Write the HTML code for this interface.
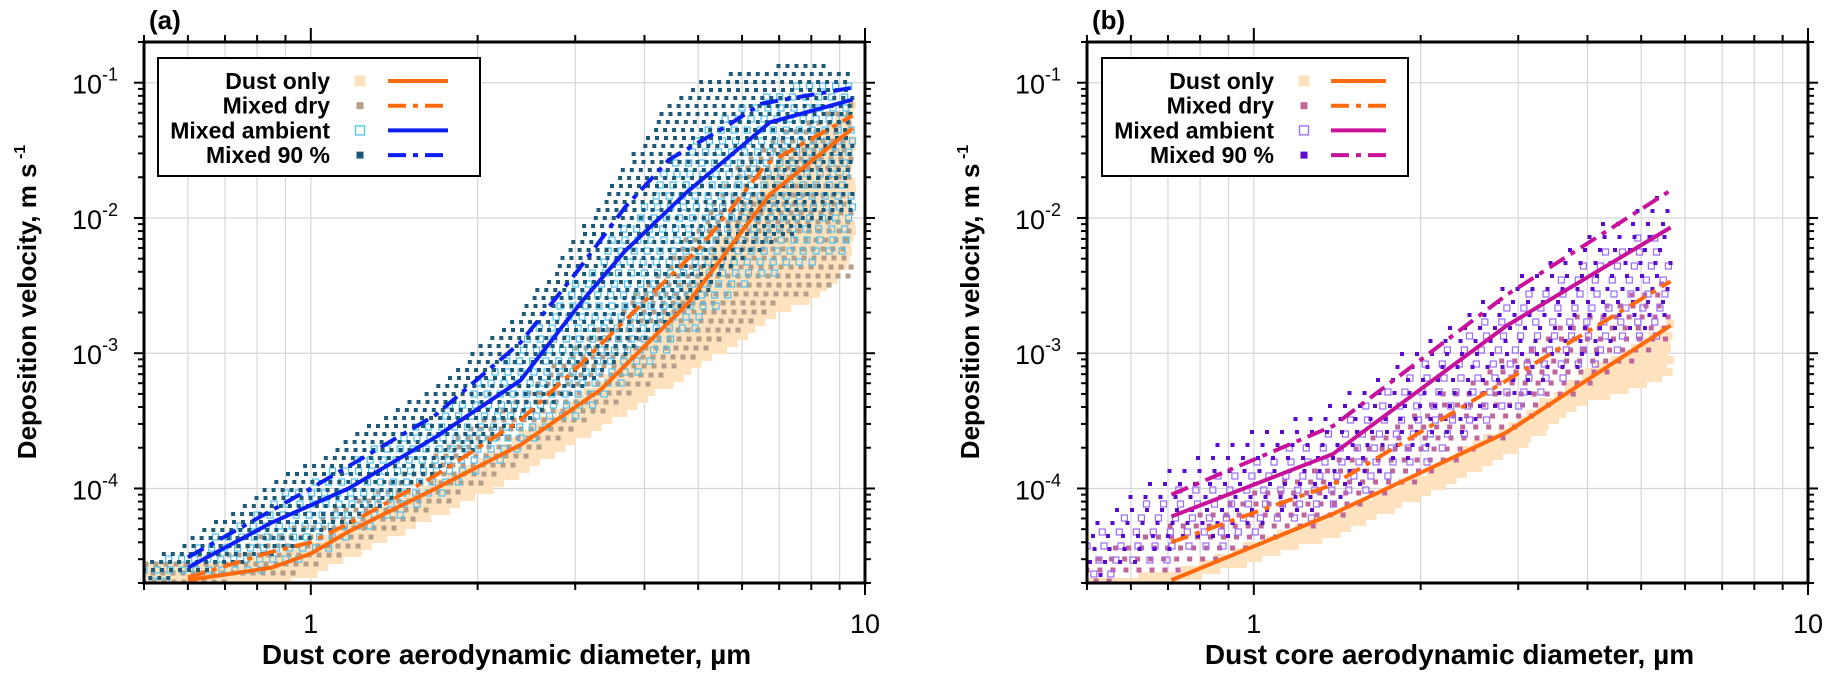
<!DOCTYPE html>
<html><head><meta charset="utf-8">
<style>
html,body{margin:0;padding:0;background:#fff;}
svg{display:block;font-family:"Liberation Sans",Arial,sans-serif;}
</style></head>
<body>
<svg id="fig" width="1846" height="677" viewBox="0 0 1846 677" xmlns="http://www.w3.org/2000/svg"></svg>
<script>
// ---------- DATA ----------
const aDustX  = [0.6, 0.85, 1.0, 1.17, 1.68, 2.39, 3.34, 4.77, 6.74, 9.5];
const aDustY  = [2.1e-5, 2.6e-5, 3.3e-5, 4.8e-5, 1.0e-4, 2.1e-4, 5.4e-4, 2.3e-3, 1.5e-2, 4.6e-2];
const aDryX   = [0.6, 0.85, 1.0, 1.22, 1.68, 2.39, 3.02, 5.1, 6.64, 9.5];
const aDryY   = [2.2e-5, 3.4e-5, 4.0e-5, 6.0e-5, 1.25e-4, 3.2e-4, 7.8e-4, 6.4e-3, 2.5e-2, 5.7e-2];
const aAmbX   = [0.6, 0.85, 1.17, 1.68, 2.39, 3.08, 3.69, 4.77, 6.74, 9.5];
const aAmbY   = [2.6e-5, 5.6e-5, 1.0e-4, 2.4e-4, 6.3e-4, 2.4e-3, 5.7e-3, 1.55e-2, 5.1e-2, 7.5e-2];
const a90X    = [0.6, 1.0, 1.68, 2.39, 3.02, 3.69, 4.43, 5.64, 6.5, 9.5];
const a90Y    = [3.1e-5, 1.0e-4, 3.5e-4, 1.2e-3, 4.0e-3, 1.2e-2, 2.7e-2, 4.8e-2, 7.0e-2, 9.2e-2];
const bX      = [0.71, 1.39, 2.86, 5.65];
const bDustY  = [2.1e-5, 6.5e-5, 2.6e-4, 1.6e-3];
const bDryY   = [4.0e-5, 1.07e-4, 6.3e-4, 3.4e-3];
const bAmbY   = [6.2e-5, 1.8e-4, 1.6e-3, 8.5e-3];
const b90Y    = [9.0e-5, 2.9e-4, 2.7e-3, 1.6e-2];
const aBandX    = [0.5, 0.6, 0.85, 1.0, 1.2, 1.7, 2.4, 3.3, 4.3, 5.0, 6.0, 7.0, 8.5, 9.5];
const aDustLo   = [2.0e-5,2.0e-5,2.0e-5,2.3e-5,3.3e-5,6.5e-5,1.3e-4,2.8e-4,5.5e-4,8e-4,1.3e-3,2.0e-3,3.0e-3,5e-3];
const aDustHi   = [2.8e-5,2.6e-5,3.0e-5,3.8e-5,5.5e-5,1.1e-4,2.4e-4,6e-4,1.6e-3,4e-3,1.2e-2,2.5e-2,4.5e-2,7e-2];
const aDryLo    = [2.0e-5,2.0e-5,2.2e-5,2.6e-5,3.6e-5,7.5e-5,1.6e-4,3.5e-4,7e-4,1.0e-3,1.6e-3,2.5e-3,3e-3,4e-3];
const aDryHi    = [2.8e-5,3.0e-5,4.5e-5,5.5e-5,8e-5,1.8e-4,5e-4,1.5e-3,4e-3,9e-3,2.5e-2,4e-2,6e-2,7e-2];
const aAmbLo    = [2.0e-5,2.2e-5,2.6e-5,3.2e-5,4.5e-5,9e-5,2e-4,4.5e-4,1.0e-3,1.6e-3,3e-3,4e-3,5e-3,5e-3];
const aAmbHi    = [2.6e-5,3.2e-5,8e-5,1.1e-4,1.6e-4,3.5e-4,1.1e-3,5e-3,2e-2,4e-2,7e-2,9e-2,1.0e-1,1.0e-1];
const a90Lo     = [2.0e-5,2.4e-5,3.2e-5,4.2e-5,6e-5,1.3e-4,3e-4,7e-4,1.5e-3,2.5e-3,5e-3,7e-3,1e-2,1.2e-2];
const a90Hi     = [2.8e-5,4.0e-5,1.1e-4,1.5e-4,2.5e-4,6e-4,2e-3,1.2e-2,6e-2,1.0e-1,1.2e-1,1.3e-1,1.3e-1,1.2e-1];
const bBandX    = [0.5, 0.71, 1.0, 1.39, 2.0, 2.86, 4.0, 5.65];
const bDustLo   = [2.0e-5,2.0e-5,3.0e-5,4.6e-5,9e-5,1.8e-4,4.5e-4,7e-4];
const bDustHi   = [2.0e-5,2.3e-5,3.8e-5,6.2e-5,1.2e-4,2.8e-4,7e-4,1.6e-3];
const bDryLo    = [2.0e-5,2.4e-5,3.8e-5,6e-5,1.2e-4,2.5e-4,6e-4,1.2e-3];
const bDryHi    = [3.0e-5,5.5e-5,9e-5,1.6e-4,4e-4,9e-4,2e-3,3.5e-3];
const bAmbLo    = [2.0e-5,3.0e-5,4.5e-5,7e-5,1.5e-4,3.5e-4,8e-4,1.5e-3];
const bAmbHi    = [4.0e-5,1.0e-4,1.6e-4,2.6e-4,8e-4,2.2e-3,5e-3,9e-3];
const b90Lo     = [2.0e-5,3.5e-5,5e-5,8e-5,1.8e-4,4e-4,9e-4,2e-3];
const b90Hi     = [5.0e-5,1.5e-4,2.6e-4,4.2e-4,1.2e-3,3.2e-3,8e-3,1.6e-2];
const xMajor = [1, 10];
const xMinor = [0.5,0.6,0.7,0.8,0.9,2,3,4,5,6,7,8,9];
const yMajor = [1e-4,1e-3,1e-2,1e-1];
const yMajorLabels = ["-4","-3","-2","-1"];
const legendLabels = ["Dust only","Mixed dry","Mixed ambient","Mixed 90 %"];

// ---------- DRAW ----------
const NS="http://www.w3.org/2000/svg";
const svg=document.getElementById('fig');
function mk(tag,attrs,parent){const e=document.createElementNS(NS,tag);for(const k in attrs)e.setAttribute(k,attrs[k]);(parent||svg).appendChild(e);return e;}
const L=Math.log10;
function interpLog(xs,ys,x){
  const lx=L(x);
  for(let i=0;i<xs.length-1;i++){
    const a=L(xs[i]),b=L(xs[i+1]);
    if(lx>=a&&lx<=b){const t=(lx-a)/(b-a);return Math.pow(10,L(ys[i])+t*(L(ys[i+1])-L(ys[i])));}
  }
  return null;
}

function panel(cfg){
  const x0=cfg.x0,x1=cfg.x0+721,y0=42,y1=583;
  const xmin=L(0.5),xmax=L(10),ymin=L(2e-5),ymax=L(0.2);
  const X=v=>x0+(L(v)-xmin)/(xmax-xmin)*(x1-x0);
  const Y=v=>y1-(L(v)-ymin)/(ymax-ymin)*(y1-y0);
  const g=mk('g',{});
  
  
  const defs=mk('clipPath',{id:'clip'+cfg.id},g);
  mk('rect',{x:x0,y:y0,width:x1-x0,height:y1-y0},defs);
  const grid=mk('g',{stroke:'#d6d6d6','stroke-width':1.2},g);
  
  
  xMinor.concat(xMajor).forEach(v=>{if(v>0.5&&v<10)mk('line',{x1:X(v),x2:X(v),y1:y0,y2:y1},grid);});
  yMajor.forEach(v=>mk('line',{x1:x0,x2:x1,y1:Y(v),y2:Y(v)},grid));
  const sc=mk('g',{'clip-path':'url(#clip'+cfg.id+')'},g);
  
  
  cfg.scatter.forEach(s=>{
    const sg=mk('g',{},sc);
    
    
    let row=0;
    for(let py=y0;py<=y1;py+=s.sy,row++){
      const off=(row%2)*s.sx/2+(row%3)*s.sx/5;
      for(let px=x0+off;px<=x1;px+=s.sx){
        const xv=Math.pow(10,xmin+(px-x0)/(x1-x0)*(xmax-xmin));
        const lo=interpLog(cfg.bandX,s.lo,xv),hi=interpLog(cfg.bandX,s.hi,xv);
        if(lo===null)continue;
        if(py<=Y(lo)+2&&py>=Y(hi)-2){
          const r=s.size/2;
          if(s.hollow)mk('rect',{x:px-r,y:py-r,width:s.size,height:s.size,fill:'none',stroke:s.color,'stroke-width':1.2},sg);
          else mk('rect',{x:px-r,y:py-r,width:s.size,height:s.size,fill:s.color},sg);
        }
      }
    }
  });
  const lg=mk('g',{'clip-path':'url(#clip'+cfg.id+')',fill:'none','stroke-width':4,'stroke-linejoin':'round'},g);
  cfg.lines.forEach(ln=>{
    const p=mk('polyline',{points:ln.x.map((v,i)=>X(v)+','+Y(ln.y[i])).join(' '),stroke:ln.color},lg);
    if(ln.dash)p.setAttribute('stroke-dasharray','18 7 5 7');
    
    
  });
  const fr=mk('rect',{x:x0,y:y0,width:x1-x0,height:y1-y0,fill:'none',stroke:'#000','stroke-width':3},g);
  
  
  const tk=mk('g',{stroke:'#000','stroke-width':2},g);
  
  
  xMajor.forEach(v=>{mk('line',{x1:X(v),x2:X(v),y1:y1,y2:y1+12},tk);mk('line',{x1:X(v),x2:X(v),y1:y0,y2:y0-14},tk);});
  xMinor.forEach(v=>{mk('line',{x1:X(v),x2:X(v),y1:y1,y2:y1+7},tk);mk('line',{x1:X(v),x2:X(v),y1:y0,y2:y0-7},tk);});
  for(let d=-5;d<=-1;d++){for(let m=1;m<=9;m++){const v=m*Math.pow(10,d);if(v<2e-5||v>0.2)continue;
    const len=m===1?10:6;
    mk('line',{x1:x0,x2:x0-len,y1:Y(v),y2:Y(v)},tk);mk('line',{x1:x1,x2:x1+len,y1:Y(v),y2:Y(v)},tk);}}
  const tl=mk('g',{'font-size':27,fill:'#000'},g);
  
  
  xMajor.forEach(v=>{const t=mk('text',{x:X(v),y:633,'text-anchor':'middle'},tl);t.textContent=String(v);
    });
  yMajor.forEach((v,i)=>{const t=mk('text',{x:x0-42,y:Y(v)+11,'text-anchor':'end'},tl);t.textContent='10';
    
    const s=mk('text',{x:x0-42,y:Y(v)-2,'font-size':18},tl);s.textContent=yMajorLabels[i];});
  const xt=mk('text',{x:(x0+x1)/2+2,y:664,'text-anchor':'middle','font-size':28,'font-weight':'bold'},g);
  xt.textContent='Dust core aerodynamic diameter, µm';
  
  const yt=mk('text',{transform:'translate('+(x0-108)+',302) rotate(-90)','text-anchor':'middle','font-size':26,'font-weight':'bold'},g);
  
  const ts1=mk('tspan',{},yt);ts1.textContent='Deposition velocity, m s';
  const ts2=mk('tspan',{dy:-11,'font-size':16},yt);ts2.textContent=' -1';
  const pl=mk('text',{x:x0+5,y:29,'font-size':26,'font-weight':'bold'},g);pl.textContent=cfg.label;
  
  const lx=cfg.legX, lw=cfg.legW;
  const leg=mk('g',{},g);
  
  mk('rect',{x:lx,y:58,width:lw,height:118,fill:'#fff',stroke:'#000','stroke-width':2},leg);
  legendLabels.forEach((lab,i)=>{
    const yy=81+i*24.7;
    const e=mk('g',{},leg);
    
    const t=mk('text',{x:lx+cfg.textEnd,y:yy+8,'text-anchor':'end','font-size':23,'font-weight':'bold'},e);t.textContent=lab;
    const s=cfg.scatter[i];const sz=i===0?11:(i===2?9:7);
    if(s.hollow)mk('rect',{x:lx+cfg.markX-sz/2,y:yy-sz/2,width:sz,height:sz,fill:'none',stroke:s.color,'stroke-width':1.3},e);
    else mk('rect',{x:lx+cfg.markX-sz/2,y:yy-sz/2,width:sz,height:sz,fill:s.color},e);
    const ln=cfg.lines[i];
    const l=mk('line',{x1:lx+cfg.lineX,x2:lx+cfg.lineX+cfg.lineW,y1:yy,y2:yy,stroke:ln.color,'stroke-width':4},e);
    if(ln.dash)l.setAttribute('stroke-dasharray','18 7 5 7');
  });
}

const OR='#ff6a0e', BL='#0d1ff2', MG='#c8129a';
panel({id:'a',name:'panel-a',label:'(a)',x0:144,legX:158,legW:322,textEnd:172,markX:202,lineX:230,lineW:60,
  bandX:aBandX,
  scatter:[
    {name:'dust-only-points',lo:aDustLo,hi:aDustHi,color:'#fde2bd',size:8,sx:8,sy:7},
    {name:'mixed-dry-points',lo:aDryLo,hi:aDryHi,color:'#b59e88',size:5,sx:10,sy:9},
    {name:'mixed-ambient-points',lo:aAmbLo,hi:aAmbHi,color:'#4ec0f0',size:6,sx:13,sy:11,hollow:true},
    {name:'mixed-90-points',lo:a90Lo,hi:a90Hi,color:'#1d5a78',size:4,sx:9,sy:8}],
  lines:[
    {name:'dust-only-line',x:aDustX,y:aDustY,color:OR},
    {name:'mixed-dry-line',x:aDryX,y:aDryY,color:OR,dash:true},
    {name:'mixed-ambient-line',x:aAmbX,y:aAmbY,color:BL},
    {name:'mixed-90-line',x:a90X,y:a90Y,color:BL,dash:true}]
});
panel({id:'b',name:'panel-b',label:'(b)',x0:1087,legX:1102,legW:306,textEnd:172,markX:202,lineX:229,lineW:55,
  bandX:bBandX,
  scatter:[
    {name:'dust-only-points',lo:bDustLo,hi:bDustHi,color:'#fde2bd',size:8,sx:8,sy:6},
    {name:'mixed-dry-points',lo:bDryLo,hi:bDryHi,color:'#c0649a',size:5,sx:13,sy:11},
    {name:'mixed-ambient-points',lo:bAmbLo,hi:bAmbHi,color:'#9a6cf5',size:6,sx:17,sy:14,hollow:true},
    {name:'mixed-90-points',lo:b90Lo,hi:b90Hi,color:'#5a0ccc',size:4,sx:15,sy:13}],
  lines:[
    {name:'dust-only-line',x:bX,y:bDustY,color:OR},
    {name:'mixed-dry-line',x:bX,y:bDryY,color:OR,dash:true},
    {name:'mixed-ambient-line',x:bX,y:bAmbY,color:MG},
    {name:'mixed-90-line',x:bX,y:b90Y,color:MG,dash:true}]
});
</script>
</body></html>
